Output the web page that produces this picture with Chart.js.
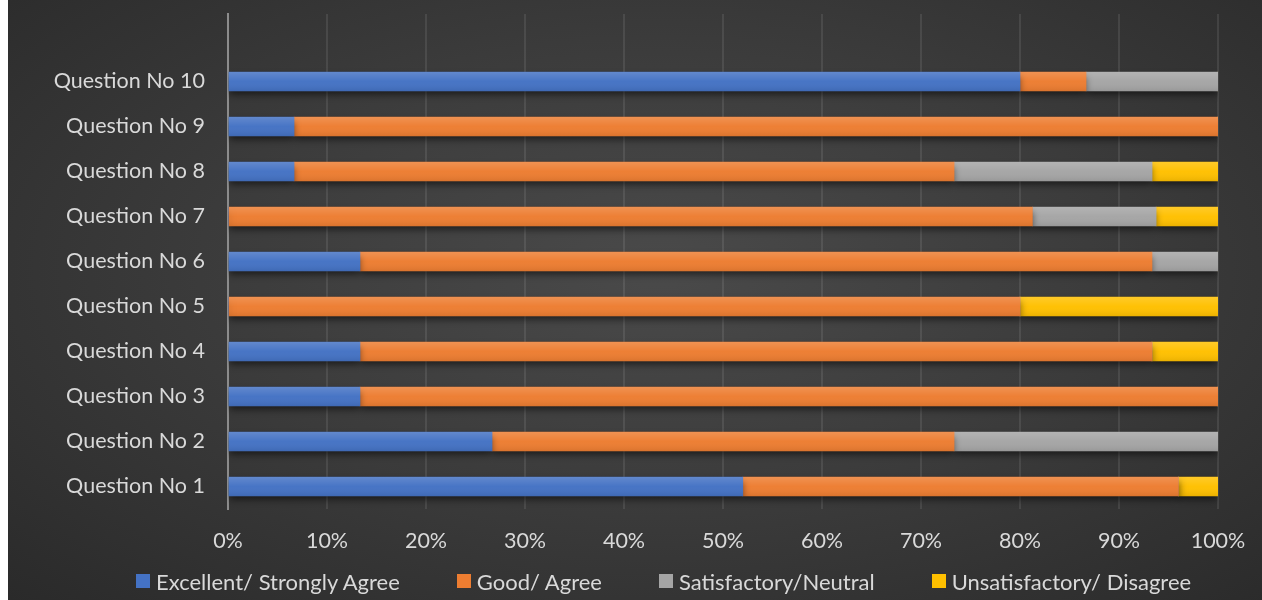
<!DOCTYPE html>
<html>
<head>
<meta charset="utf-8">
<script src="https://cdn.jsdelivr.net/npm/chart.js@4"></script>
<style>
    body { margin: 0; background: #ffffff; }
    #wrap {
        position: absolute; left: 8px; top: 0; width: 1254px; height: 600px;
        background: radial-gradient(ellipse at 52% 45%, #4a4a4a 0%, #3b3b3b 50%, #2a2a2a 100%);
    }
    #legend {
        position: absolute; left: 136px; top: 568px; height: 26px;
        display: flex; align-items: center;
        font-family: Lato, "Open Sans", sans-serif; font-size: 22px; color: #d9d9d9;
        white-space: nowrap;
    }
    #legend .item { display: flex; align-items: center; margin-right: 57px; }
    #legend .box { width: 14px; height: 14px; margin-right: 6px; }
</style>
</head>
<body>
<div id="wrap"><canvas id="chart"></canvas></div>
<div id="legend"></div>
<script>
// top row is an empty slot, like in the original sheet
const questions = ['', 'Question No 10', 'Question No 9', 'Question No 8', 'Question No 7', 'Question No 6',
    'Question No 5', 'Question No 4', 'Question No 3', 'Question No 2', 'Question No 1'];

const excellent = [null, 80, 6.67, 6.67, 0, 13.33, 0, 13.33, 13.33, 26.67, 52];
const good = [null, 6.67, 93.33, 66.67, 81.25, 80, 80, 80, 86.67, 46.67, 44];
const satisfactory = [null, 13.33, 0, 20, 12.5, 6.67, 0, 0, 0, 26.67, 0];
const unsatisfactory = [null, 0, 0, 6.67, 6.25, 0, 20, 6.67, 0, 0, 4];

const seriesNames = ['Excellent/ Strongly Agree', 'Good/ Agree', 'Satisfactory/Neutral', 'Unsatisfactory/ Disagree'];
const seriesColors = ['#4472c4', '#ed7d31', '#a5a5a5', '#ffc000'];

const fontFamily = 'Lato, "Open Sans", sans-serif';
const textColor = '#d9d9d9';

// drop shadow under the bars
const barShadow = {
    id: 'barShadow',
    beforeDatasetsDraw(chart) {
        const ctx = chart.ctx;
        ctx.save();
        ctx.shadowColor = 'rgba(0,0,0,0.55)';
        ctx.shadowBlur = 7;
        ctx.shadowOffsetY = 4;
    },
    afterDatasetsDraw(chart) {
        const ctx = chart.ctx;
        ctx.restore();
        // soft light on top of each bar
        chart.data.datasets.forEach((ds, i) => {
            chart.getDatasetMeta(i).data.forEach(bar => {
                const { x, y, base, height } = bar.getProps(['x', 'y', 'base', 'height'], true);
                if (!height || x === base) return;
                const top = y - height / 2;
                const g = ctx.createLinearGradient(0, top, 0, top + height);
                g.addColorStop(0, 'rgba(255,255,255,0.16)');
                g.addColorStop(0.5, 'rgba(255,255,255,0.02)');
                g.addColorStop(1, 'rgba(0,0,0,0.08)');
                ctx.fillStyle = g;
                ctx.fillRect(Math.min(base, x), top, Math.abs(x - base), height);
            });
        });
    }
};

new Chart(document.getElementById('chart'), {
    type: 'bar',
    data: {
        labels: questions,
        datasets: [excellent, good, satisfactory, unsatisfactory].map((d, i) => ({
            label: seriesNames[i],
            data: d,
            backgroundColor: seriesColors[i],
            barThickness: 19,
            borderWidth: 0
        }))
    },
    options: {
        indexAxis: 'y',
        responsive: true,
        maintainAspectRatio: false,
        animation: false,
        layout: { padding: { top: 14, right: 44, bottom: 0, left: 0 } },
        scales: {
            x: {
                stacked: true,
                min: 0,
                max: 100,
                ticks: {
                    stepSize: 10,
                    color: textColor,
                    font: { family: fontFamily, size: 21.5 },
                    padding: 19,
                    callback: v => v + '%'
                },
                grid: { color: 'rgba(255,255,255,0.09)', lineWidth: 2, drawTicks: false },
                border: { display: false },
                afterFit(scale) {
                    scale.height = 91;
                    scale.paddingLeft = 0;
                    scale.paddingRight = 0;
                }
            },
            y: {
                stacked: true,
                ticks: {
                    color: textColor,
                    font: { family: fontFamily, size: 21.5 },
                    padding: 15
                },
                grid: { display: false },
                border: { color: '#8c8c8c', width: 2 },
                afterFit(scale) {
                    scale.width = 220;
                    scale.paddingTop = 0;
                    scale.paddingBottom = 0;
                }
            }
        },
        plugins: {
            legend: { display: false },
            tooltip: { enabled: false }
        }
    },
    plugins: [barShadow]
});

// legend as plain html under the chart
document.getElementById('legend').innerHTML = seriesNames.map((name, i) =>
    `<span class="item"><span class="box" style="background:${seriesColors[i]}"></span>${name}</span>`
).join('');
</script>
</body>
</html>
